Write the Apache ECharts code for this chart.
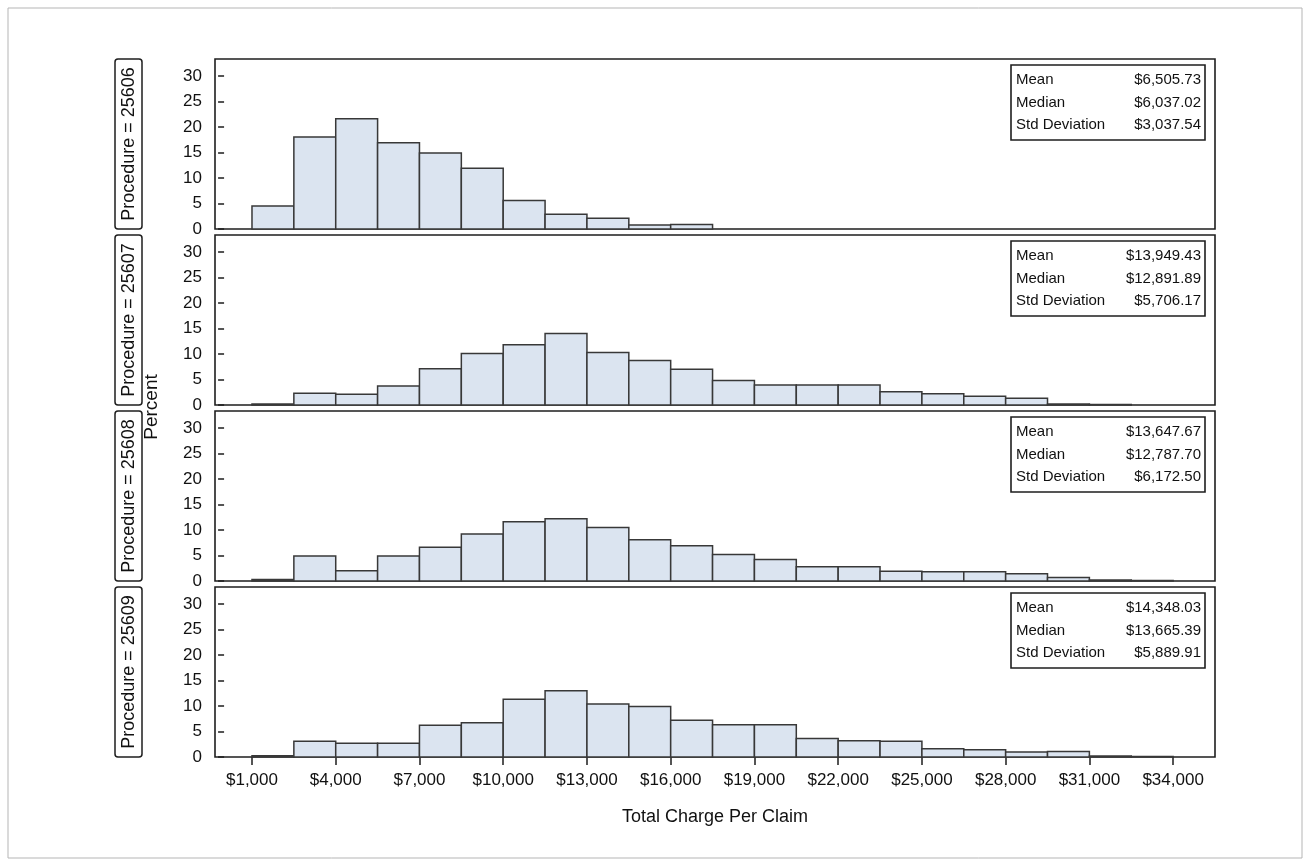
<!DOCTYPE html>
<html><head><meta charset="utf-8">
<script src="https://cdn.jsdelivr.net/npm/echarts@6/dist/echarts.min.js"></script>
<style>html,body{margin:0;padding:0;background:#fff}#c{width:1310px;height:866px}</style>
</head><body><div id="c"></div>
<script>
// ---- data ----
const binEdges = [1000, 2500, 4000, 5500, 7000, 8500, 10000, 11500, 13000, 14500, 16000, 17500,
  19000, 20500, 22000, 23500, 25000, 26500, 28000, 29500, 31000, 32500, 34000];
const procedures = ['Procedure = 25606', 'Procedure = 25607', 'Procedure = 25608', 'Procedure = 25609'];
const pct25606 = [4.5, 18.0, 21.6, 16.9, 14.9, 11.9, 5.6, 2.9, 2.1, 0.8, 0.9, 0, 0, 0, 0, 0, 0, 0, 0, 0, 0, 0];
const pct25607 = [0.2, 2.3, 2.1, 3.7, 7.1, 10.1, 11.8, 14.0, 10.3, 8.7, 7.0, 4.8, 3.9, 3.9, 3.9, 2.6, 2.2, 1.7, 1.3, 0.2, 0.1, 0];
const pct25608 = [0.3, 4.9, 2.0, 4.9, 6.6, 9.2, 11.6, 12.2, 10.5, 8.1, 6.9, 5.2, 4.2, 2.8, 2.8, 1.9, 1.8, 1.8, 1.4, 0.7, 0.2, 0.1];
const pct25609 = [0.25, 3.1, 2.7, 2.7, 6.2, 6.7, 11.3, 13.0, 10.4, 9.9, 7.2, 6.3, 6.3, 3.6, 3.2, 3.1, 1.6, 1.4, 1.0, 1.1, 0.2, 0.1];
const statLabels = ['Mean', 'Median', 'Std Deviation'];
const stats25606 = ['$6,505.73', '$6,037.02', '$3,037.54'];
const stats25607 = ['$13,949.43', '$12,891.89', '$5,706.17'];
const stats25608 = ['$13,647.67', '$12,787.70', '$6,172.50'];
const stats25609 = ['$14,348.03', '$13,665.39', '$5,889.91'];
const xTickValues = [1000, 4000, 7000, 10000, 13000, 16000, 19000, 22000, 25000, 28000, 31000, 34000];
const yTickValues = [0, 5, 10, 15, 20, 25, 30];
const xTitle = 'Total Charge Per Claim';
const yTitle = 'Percent';

// ---- layout ----
const FONT = '"Liberation Sans", Arial, sans-serif';
const series = [pct25606, pct25607, pct25608, pct25609];
const stats = [stats25606, stats25607, stats25608, stats25609];
const gridLeft = 215, gridRight = 95, gridH = 170;
const gridTops = [59, 235, 411, 587];
const chart = echarts.init(document.getElementById('c'), null, {renderer: 'canvas'});

const grids = [], xAxes = [], yAxes = [], ser = [], graphics = [];
graphics.push({type: 'rect', shape: {x: 8, y: 8, width: 1294, height: 850},
  style: {fill: 'none', stroke: '#b5b5b5', lineWidth: 1}, silent: true});

series.forEach((vals, i) => {
  const last = i === series.length - 1;
  grids.push({left: gridLeft, right: gridRight, top: gridTops[i], height: gridH, show: true,
    borderColor: '#1e1e1e', borderWidth: 1.6, backgroundColor: 'transparent'});
  xAxes.push({type: 'value', gridIndex: i, min: -325, max: 35500, show: true,
    axisLine: {show: false}, splitLine: {show: false},
    axisTick: {show: last, length: 8, lineStyle: {color: '#1e1e1e', width: 1.5}, customValues: xTickValues},
    axisLabel: {show: last, customValues: xTickValues, margin: 15, color: '#111', fontSize: 17, fontFamily: FONT,
      formatter: v => '$' + v.toLocaleString('en-US')}});
  yAxes.push({type: 'value', gridIndex: i, min: 0, max: 33.3,
    axisLine: {show: false}, splitLine: {show: false},
    axisTick: {show: true, length: 6, lineStyle: {color: '#1e1e1e', width: 1.5}, customValues: yTickValues},
    axisLabel: {customValues: yTickValues, margin: 13, color: '#111', fontSize: 17, fontFamily: FONT}});
  const data = vals.map((v, k) => [binEdges[k], binEdges[k + 1], v]);
  ser.push({type: 'custom', xAxisIndex: i, yAxisIndex: i, data: data,
    encode: {x: [0, 1], y: 2},
    renderItem: (params, api) => {
      const v = api.value(2);
      if (!v) return null;
      const p0 = api.coord([api.value(0), v]);
      const p1 = api.coord([api.value(1), 0]);
      return {type: 'rect', shape: {x: p0[0], y: p0[1], width: p1[0] - p0[0], height: p1[1] - p0[1]},
        style: {fill: '#dbe4f0', stroke: '#383838', lineWidth: 1.5}};
    }});
  // procedure label box
  const top = gridTops[i];
  graphics.push({type: 'rect', shape: {x: 115, y: top, width: 27, height: gridH, r: 3},
    style: {fill: '#fff', stroke: '#1e1e1e', lineWidth: 1.5}, silent: true});
  graphics.push({type: 'text', x: 129, y: top + gridH / 2, rotation: Math.PI / 2,
    style: {text: procedures[i], fill: '#111', font: '18px ' + FONT, align: 'center', verticalAlign: 'middle'}});
  // stats box
  const bx = 1011, bw = 194, by = top + 6, bh = 75;
  graphics.push({type: 'rect', shape: {x: bx, y: by, width: bw, height: bh},
    style: {fill: '#fff', stroke: '#1e1e1e', lineWidth: 1.6}, silent: true});
  statLabels.forEach((lab, r) => {
    const ty = by + 15 + r * 22.5;
    graphics.push({type: 'text', x: bx + 5, y: ty,
      style: {text: lab, fill: '#111', font: '15px ' + FONT, align: 'left', verticalAlign: 'middle'}});
    graphics.push({type: 'text', x: bx + bw - 4, y: ty,
      style: {text: stats[i][r], fill: '#111', font: '15px ' + FONT, align: 'right', verticalAlign: 'middle'}});
  });
});

graphics.push({type: 'text', x: 152, y: 407, rotation: Math.PI / 2,
  style: {text: yTitle, fill: '#111', font: '19px ' + FONT, align: 'center', verticalAlign: 'middle'}});
graphics.push({type: 'text', x: 715, y: 817,
  style: {text: xTitle, fill: '#111', font: '18px ' + FONT, align: 'center', verticalAlign: 'middle'}});

chart.setOption({
  backgroundColor: '#fff',
  animation: false,
  grid: grids, xAxis: xAxes, yAxis: yAxes, series: ser, graphic: graphics
});
</script></body></html>
